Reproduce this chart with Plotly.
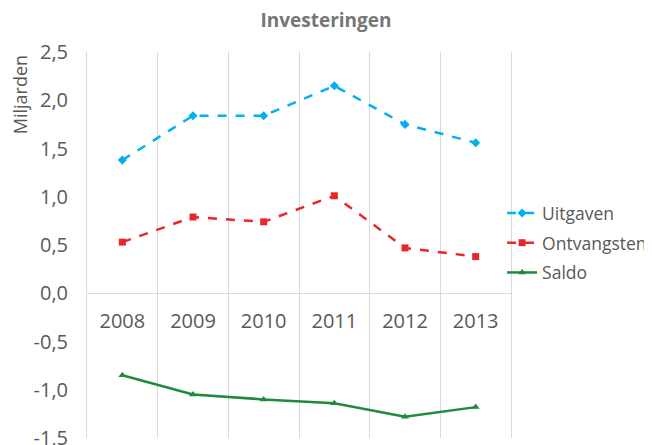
import plotly.graph_objects as go

years = ["2008", "2009", "2010", "2011", "2012", "2013"]
uitgaven = [1.38, 1.84, 1.84, 2.15, 1.75, 1.56]
ontvangsten = [0.53, 0.79, 0.74, 1.01, 0.47, 0.38]
saldo = [-0.85, -1.05, -1.10, -1.14, -1.28, -1.18]
y_ticks = [-1.5, -1.0, -0.5, 0.0, 0.5, 1.0, 1.5, 2.0, 2.5]
y_tick_labels = ["-1,5", "-1,0", "-0,5", "0,0", "0,5", "1,0", "1,5", "2,0", "2,5"]

FONT = "Open Sans"
GRAY = "#595959"
GRID = "#D9D9D9"

# page body has an 8px margin; figure sized to fit the window
W, H = 644, 437

fig = go.Figure()
fig.add_trace(go.Scatter(x=years, y=uitgaven, name="Uitgaven", mode="lines+markers",
                         line=dict(color="#00B0F0", width=2.5, dash="dash"),
                         marker=dict(symbol="diamond", size=7, color="#00B0F0"),
                         legendgroup="a"))
fig.add_trace(go.Scatter(x=years, y=ontvangsten, name="Ontvangsten", mode="lines+markers",
                         line=dict(color="#E8272B", width=2.5, dash="dash"),
                         marker=dict(symbol="square", size=7, color="#E8272B"),
                         legendgroup="b"))
fig.add_trace(go.Scatter(x=years, y=saldo, name="Saldo", mode="lines+markers",
                         line=dict(color="#1E8B3C", width=2.5),
                         marker=dict(symbol="triangle-up", size=7, color="#1E8B3C"),
                         legendgroup="c"))

fig.update_layout(
    width=W, height=H,
    margin=dict(l=79, r=141, t=44, b=7, autoexpand=False),
    paper_bgcolor="white", plot_bgcolor="white",
    font=dict(family=FONT, size=19, color=GRAY),
    title=dict(text="<b>Investeringen</b>", x=318 / W, xanchor="center", xref="container",
               y=1 - 12 / H, yanchor="middle",
               font=dict(family=FONT, size=19, color="#767676")),
    legend=dict(x=0.979, xanchor="left", y=0.505, yanchor="middle",
                font=dict(family=FONT, size=17.5, color=GRAY),
                tracegroupgap=4, itemwidth=30, bgcolor="rgba(0,0,0,0)"),
    xaxis=dict(type="category", range=[-0.5, 5.5], tickson="boundaries",
               showgrid=True, gridcolor=GRID, gridwidth=1,
               anchor="free", position=0.375,
               showline=True, linecolor=GRID, linewidth=1,
               ticks="", ticklabelstandoff=10,
               tickfont=dict(family=FONT, size=20, color=GRAY)),
    yaxis=dict(range=[-1.5, 2.5], tickmode="array", tickvals=y_ticks, ticktext=y_tick_labels,
               showgrid=False, zeroline=False,
               showline=True, mirror=True, linecolor=GRID, linewidth=1,
               ticks="", ticklabelstandoff=14, ticklabeloverflow="allow",
               tickfont=dict(family=FONT, size=20, color=GRAY)),
    annotations=[dict(text="Miljarden", xref="paper", yref="paper",
                      x=-0.158, y=0.888, textangle=-90, showarrow=False,
                      xanchor="center", yanchor="middle",
                      font=dict(family=FONT, size=18, color=GRAY))],
)

fig.write_html("out.html")
